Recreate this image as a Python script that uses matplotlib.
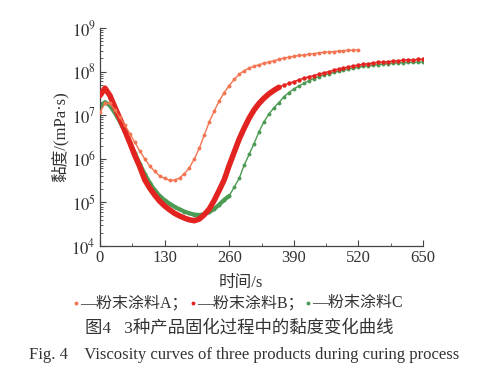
import matplotlib
matplotlib.use("Agg")
import matplotlib.pyplot as plt
import numpy as np
from matplotlib.ticker import LogLocator, FixedLocator, NullFormatter
from matplotlib.lines import Line2D

plt.rcParams['font.family'] = ['Liberation Serif', 'Noto Sans CJK SC', 'DejaVu Sans']
plt.rcParams['mathtext.fontset'] = 'stix'

# ---- data (time in s, log10 viscosity in mPa·s) ----
t_A = list(range(0, 521, 10))
logv_A = [7.07, 7.27, 7.27, 7.12, 6.95, 6.77, 6.58, 6.38, 6.18, 6.00,
          5.84, 5.71, 5.61, 5.55, 5.51, 5.51, 5.56, 5.66, 5.80, 6.00,
          6.25, 6.55, 6.85, 7.10, 7.33, 7.52, 7.68, 7.82, 7.94, 8.02,
          8.08, 8.12, 8.16, 8.19, 8.22, 8.25, 8.28, 8.31, 8.33, 8.35,
          8.37, 8.38, 8.40, 8.41, 8.43, 8.44, 8.45, 8.46, 8.47, 8.48,
          8.49, 8.49, 8.50]

t_B_dense = list(range(0, 361, 10))
logv_B_dense = [7.45, 7.62, 7.45, 7.18, 6.92, 6.65, 6.37, 6.08, 5.82, 5.52,
                5.33, 5.17, 5.03, 4.92, 4.83, 4.75, 4.69, 4.64, 4.60, 4.58,
                4.62, 4.72, 4.85, 5.05, 5.28, 5.52, 5.85, 6.15, 6.45, 6.70,
                6.93, 7.12, 7.27, 7.39, 7.49, 7.57, 7.64]
t_B_tail = list(range(370, 651, 10))
logv_B_tail = [7.69, 7.73, 7.77, 7.81, 7.85, 7.88, 7.91, 7.94, 7.97, 8.00,
               8.03, 8.06, 8.08, 8.11, 8.13, 8.15, 8.17, 8.18, 8.20, 8.21,
               8.22, 8.23, 8.24, 8.25, 8.26, 8.27, 8.27, 8.28, 8.28]

t_C = list(range(0, 651, 10))
logv_C = [7.20, 7.30, 7.22, 7.05, 6.85, 6.62, 6.38, 6.13, 5.88, 5.65,
          5.45, 5.28, 5.15, 5.05, 4.97, 4.90, 4.84, 4.79, 4.75, 4.72,
          4.71, 4.73, 4.78, 4.85, 4.95, 5.06, 5.15, 5.35, 5.55, 5.85,
          6.10, 6.35, 6.62, 6.85, 7.03, 7.17, 7.29, 7.42, 7.52, 7.60,
          7.67, 7.73, 7.79, 7.84, 7.88, 7.92, 7.95, 7.98, 8.01, 8.04,
          8.06, 8.08, 8.10, 8.12, 8.13, 8.15, 8.16, 8.17, 8.18, 8.19,
          8.20, 8.20, 8.21, 8.21, 8.22, 8.22]

x_ticks = [0, 130, 260, 390, 520, 650]
y_ticks = [1e4, 1e5, 1e6, 1e7, 1e8, 1e9]
y_labels = [r'$10^{4}$', r'$10^{5}$', r'$10^{6}$', r'$10^{7}$', r'$10^{8}$', r'$10^{9}$']

col_A = '#f37552'
col_B = '#e3231f'
col_C = '#4b9b55'
txt = '#333333'

fig = plt.figure(figsize=(4.8, 3.85), dpi=100)
ax = fig.add_axes([100/480, 1-246/385, 323/480, 218/385])

ax.plot(t_C, 10**np.array(logv_C), color=col_C, lw=1.0, marker='o', ms=2.8, mew=0, zorder=2)
ax.plot(t_C[:27], 10**np.array(logv_C[:27]), color=col_C, lw=3.0, solid_capstyle='round', zorder=2)
ax.plot(t_B_dense, 10**np.array(logv_B_dense), color=col_B, lw=4.0, solid_capstyle='round', zorder=3)
ax.plot([t_B_dense[-1]] + t_B_tail, 10**np.array([logv_B_dense[-1]] + logv_B_tail),
        color=col_B, lw=1.0, marker='o', ms=3.2, mew=0, zorder=3)
ax.plot(t_A, 10**np.array(logv_A), color=col_A, lw=1.0, marker='o', ms=2.8, mew=0, zorder=4)

ax.set_yscale('log')
ax.set_xlim(0, 650)
ax.set_ylim(1e4, 1e9)
ax.set_xticks(x_ticks)
ax.set_xticklabels([str(v) for v in x_ticks])
ax.xaxis.set_minor_locator(FixedLocator([65, 195, 325, 455, 585]))
ax.set_yticks(y_ticks)
ax.set_yticklabels(y_labels)
ax.yaxis.set_minor_locator(LogLocator(base=10, subs=np.arange(2, 10)))
ax.yaxis.set_minor_formatter(NullFormatter())

for s in ['top', 'right']:
    ax.spines[s].set_visible(False)
for s in ['left', 'bottom']:
    ax.spines[s].set_color('#444444')
    ax.spines[s].set_linewidth(0.9)

ax.tick_params(which='major', direction='in', length=4, width=0.8, color='#444444',
               labelsize=12, labelcolor=txt, pad=3)
ax.tick_params(which='minor', direction='in', length=2, width=0.6, color='#444444')

ax.set_ylabel('黏度/(mPa·s)', fontsize=12, color=txt, labelpad=2)
fig.text(241/480, 1-283/385, '时间/s', fontsize=12, color=txt, ha='center', va='center')

# legend line
y_leg = 1 - 303/385
items = [(76, col_A, '—粉末涂料A；'), (193, col_B, '—粉末涂料B；'), (308, col_C, '—粉末涂料C')]
for x0, c, s in items:
    fig.add_artist(Line2D([x0/480], [y_leg], marker='o', ms=2.8, mew=0, color=c,
                          transform=fig.transFigure))
    fig.text((x0+4)/480, y_leg, s, color=txt, fontsize=11.5, ha='left', va='center')

fig.text(239/480, 1-328/385, '图4   3种产品固化过程中的黏度变化曲线', color=txt,
         fontsize=12.5, ha='center', va='center')
fig.text(244/480, 1-355/385, 'Fig. 4    Viscosity curves of three products during curing process',
         color=txt, fontsize=12, ha='center', va='center')

fig.savefig('out.png', dpi=100)
